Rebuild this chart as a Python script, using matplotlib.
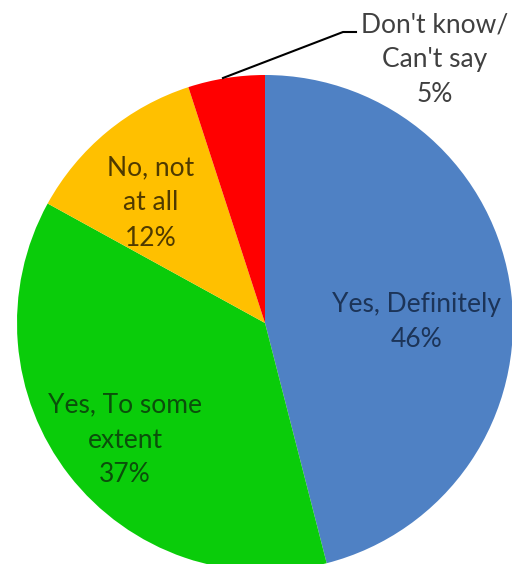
import matplotlib
matplotlib.use("Agg")
import matplotlib.pyplot as plt

# Data
labels = ["Yes, Definitely", "Yes, To some\nextent", "No, not\nat all", "Don't know/\nCan't say"]
shares = [46, 37, 12, 5]
colors = ["#4f81c4", "#0acc0a", "#ffc000", "#ff0000"]
text_colors = ["#1c3458", "#0b4f0b", "#4f3a00", "#404040"]

W, H = 512, 564
fig = plt.figure(figsize=(W / 100, H / 100), dpi=100)
ax = fig.add_axes([0, 0, 1, 1])

cx, cy, r = 265, H - 323, 248
ax.pie(shares, colors=colors, startangle=90, counterclock=False,
       center=(cx, cy), radius=r, frame=True,
       wedgeprops=dict(linewidth=0))
ax.set_xlim(0, W)
ax.set_ylim(0, H)
ax.set_aspect("equal")
ax.axis("off")

# label positions in pixels (x, y from top)
label_pos = [(417, 322), (125, 440), (151, 203), (435, 60)]
for lab, val, (x, y), tc in zip(labels, shares, label_pos, text_colors):
    ax.text(x, H - y, f"{lab}\n{val}%", ha="center", va="center",
            fontsize=19, color=tc, linespacing=1.5,
            family=["Lato", "DejaVu Sans"])

# leader line for the small slice
ax.plot([223, 343, 356], [H - 78, H - 32, H - 32], color="black", lw=1.5)

fig.savefig("out.png", dpi=100)
